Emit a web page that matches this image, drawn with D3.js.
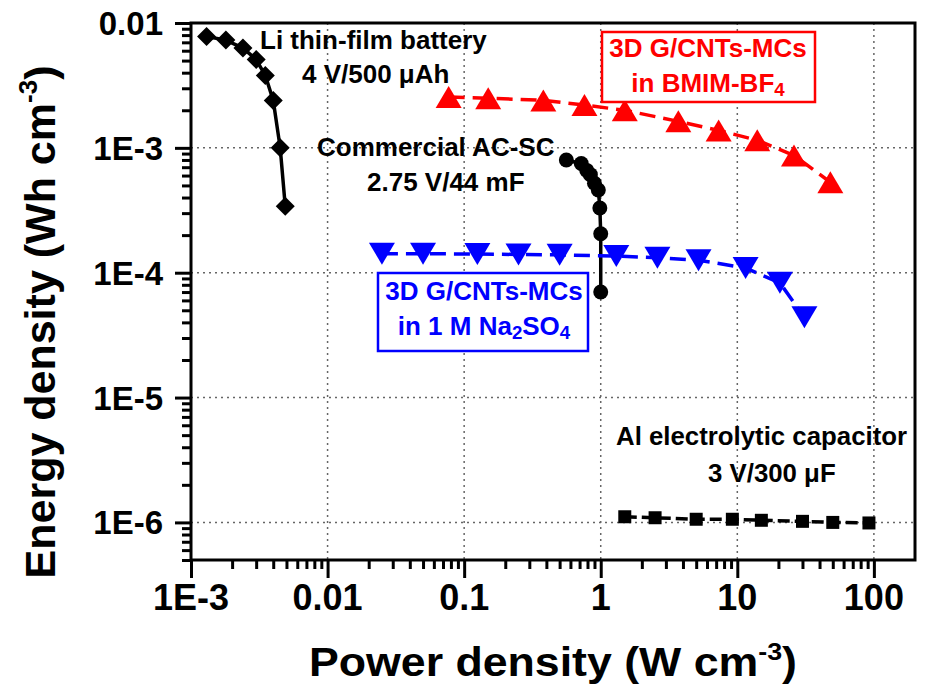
<!DOCTYPE html>
<html><head><meta charset="utf-8">
<script src="https://cdn.jsdelivr.net/npm/d3@7"></script>
<style>body{margin:0;background:#fff}text{font-family:"Liberation Sans",Arial,sans-serif;font-weight:bold}</style>
</head><body><svg id="c" width="926" height="690"></svg>
<script>
// ---- data ----
const xTicks=[1e-3,0.01,0.1,1,10,100];
const xTickLabels=["1E-3","0.01","0.1","1","10","100"];
const yTicks=[1e-6,1e-5,1e-4,1e-3,0.01];
const yTickLabels=["1E-6","1E-5","1E-4","1E-3","0.01"];

const liPower=[0.0013,0.0018,0.0024,0.003,0.0035,0.004,0.0045,0.0049];
const liEnergy=[0.0078,0.0073,0.0063,0.0051,0.0038,0.0024,0.001,0.00034];

const acPower=[0.56,0.72,0.79,0.84,0.9,0.96,0.985,1.0,1.0];
const acEnergy=[8.0e-4,7.5e-4,6.6e-4,6.1e-4,5.2e-4,4.6e-4,3.3e-4,2.05e-4,7.0e-5];

const ilPower=[0.077,0.15,0.38,0.76,1.5,3.7,7.3,14,26,48];
const ilEnergy=[0.00255,0.0025,0.0024,0.0022,0.002,0.00163,0.00138,0.00115,0.00087,0.00053];

const aqPower=[0.025,0.05,0.125,0.25,0.5,1.3,2.6,5.2,11.5,20.5,31];
const aqEnergy=[1.42e-4,1.42e-4,1.41e-4,1.40e-4,1.39e-4,1.36e-4,1.32e-4,1.26e-4,1.09e-4,8.3e-5,4.4e-5];

const alPower=[1.5,2.5,5,9.2,15,30,50,92];
const alEnergy=[1.11e-6,1.09e-6,1.06e-6,1.06e-6,1.04e-6,1.02e-6,1.0e-6,0.99e-6];

// ---- layout ----
const L=191,R=915,T=23,B=560;
const svg=d3.select("#c");
const x=d3.scaleLog().domain([1e-3,200]).range([L,R]);
const y=d3.scaleLog().domain([5e-7,0.01]).range([B,T]);

function minors(lo,hi){const a=[];for(let e=-8;e<=3;e++){for(let k=1;k<=9;k++){const v=k*Math.pow(10,e);if(v>=lo*0.999&&v<=hi*1.001)a.push(+v.toPrecision(3));}}return a;}
const isMajor=v=>Math.abs(Math.log10(v)-Math.round(Math.log10(v)))<1e-6;

// grid
const g=svg.append("g");
g.selectAll(".vg").data(xTicks.filter(v=>v>1e-3)).enter().append("line")
 .attr("x1",d=>x(d)).attr("x2",d=>x(d)).attr("y1",T).attr("y2",B)
 .attr("stroke","#666").attr("stroke-width",1.5).attr("stroke-dasharray","2,4");
g.selectAll(".hg").data(yTicks.filter(v=>v<0.01)).enter().append("line")
 .attr("y1",d=>y(d)).attr("y2",d=>y(d)).attr("x1",L).attr("x2",R)
 .attr("stroke","#666").attr("stroke-width",1.5).attr("stroke-dasharray","2,4");

// axes
const xAll=minors(1e-3,100);
const xAxis=svg.append("g").attr("transform",`translate(0,${B})`)
 .call(d3.axisBottom(x).tickValues(xAll).tickSize(17).tickFormat(""));
xAxis.select(".domain").remove();
xAxis.selectAll(".tick line").attr("stroke","#000").attr("stroke-width",3)
 .attr("y2",d=>isMajor(d)?18:9);
const yAll=minors(5e-7,0.01);
const yAxis=svg.append("g").attr("transform",`translate(${L},0)`)
 .call(d3.axisLeft(y).tickValues(yAll).tickSize(16).tickFormat(""));
yAxis.select(".domain").remove();
yAxis.selectAll(".tick line").attr("stroke","#000").attr("stroke-width",3)
 .attr("x2",d=>isMajor(d)?-16:-9);

// tick labels
svg.selectAll(".xl").data(xTicks).enter().append("text")
 .attr("x",d=>x(d)).attr("y",B+50).attr("text-anchor","middle")
 .attr("font-size",36).text((d,i)=>xTickLabels[i]);
svg.selectAll(".yl").data(yTicks).enter().append("text")
 .attr("x",L-28).attr("y",d=>y(d)+12).attr("text-anchor","end")
 .attr("font-size",33).text((d,i)=>yTickLabels[i]);

// frame
svg.append("rect").attr("x",L).attr("y",T).attr("width",R-L).attr("height",B-T)
 .attr("fill","none").attr("stroke","#000").attr("stroke-width",3);

// axis titles
const xt=svg.append("text").attr("x",(L+R)/2).attr("y",676).attr("text-anchor","middle")
 .attr("font-size",40).attr("textLength",488).attr("lengthAdjust","spacingAndGlyphs");
xt.append("tspan").text("Power density (W cm");
xt.append("tspan").attr("font-size",24).attr("dy",-16).text("-3");
xt.append("tspan").attr("dy",16).text(")");

const yt=svg.append("text").attr("transform","translate(55,322) rotate(-90)")
 .attr("text-anchor","middle").attr("font-size",43);
yt.append("tspan").text("Energy density (Wh cm");
yt.append("tspan").attr("font-size",26).attr("dy",-18).text("-3");
yt.append("tspan").attr("dy",18).text(")");

// series
function series(px,py,color,dash,shape){
  const pts=px.map((v,i)=>[v,py[i]]);
  const line=d3.line().x(d=>x(d[0])).y(d=>y(d[1]));
  svg.append("path").attr("d",line(pts)).attr("fill","none").attr("stroke",color)
   .attr("stroke-width",3.5).attr("stroke-dasharray",dash);
  svg.append("g").selectAll("path").data(pts).enter().append("path")
   .attr("transform",d=>`translate(${x(d[0])},${y(d[1])})`)
   .attr("d",shape).attr("fill",color);
}
const diamond="M0,-9.5L9.5,0L0,9.5L-9.5,0Z";
const triUp="M0,-11L13,11L-13,11Z";
const triDown="M0,11L13,-11L-13,-11Z";
const circle=d3.symbol().type(d3.symbolCircle).size(Math.PI*56)();
const square="M-6.5,-6.5H6.5V6.5H-6.5Z";

series(liPower,liEnergy,"#000",null,diamond);
series(acPower,acEnergy,"#000",null,circle);
series(ilPower,ilEnergy,"#ff0000","16,8",triUp);
series(aqPower,aqEnergy,"#0000ff","16,8",triDown);
series(alPower,alEnergy,"#000","12,5",square);

// annotations
function label(lines,color,fs){
  lines.forEach(l=>{
    const t=svg.append("text").attr("x",l.x).attr("y",l.y).attr("fill",color)
      .attr("font-size",fs).attr("text-anchor",l.anchor||"start");
    l.parts.forEach(p=>{
      const s=t.append("tspan").text(p.t);
      if(p.sub){s.attr("font-size",fs*0.72).attr("dy",4);}
      if(p.back){s.attr("dy",-4);}
    });
  });
}
label([{x:260,y:49,parts:[{t:"Li thin-film battery"}]},{x:302,y:83,parts:[{t:"4 V/500 μAh"}]}],"#000",26);
label([{x:317,y:156,parts:[{t:"Commercial AC-SC"}]},{x:367,y:191,parts:[{t:"2.75 V/44 mF"}]}],"#000",26);
label([{x:616,y:445,parts:[{t:"Al electrolytic capacitor"}]},{x:708,y:482,parts:[{t:"3 V/300 μF"}]}],"#000",25.8);

svg.append("rect").attr("x",602).attr("y",32).attr("width",213).attr("height",70)
 .attr("fill","#fff").attr("stroke","#ff0000").attr("stroke-width",2.5);
label([{x:708,y:57,anchor:"middle",parts:[{t:"3D G/CNTs-MCs"}]},{x:708,y:92,anchor:"middle",parts:[{t:"in BMIM-BF"},{t:"4",sub:true}]}],"#ff0000",26);

svg.append("rect").attr("x",378).attr("y",273).attr("width",210).attr("height",78)
 .attr("fill","#fff").attr("stroke","#0000ff").attr("stroke-width",2.5);
label([{x:484,y:300,anchor:"middle",parts:[{t:"3D G/CNTs-MCs"}]},{x:484,y:335,anchor:"middle",parts:[{t:"in 1 M Na"},{t:"2",sub:true},{t:"SO",back:true},{t:"4",sub:true}]}],"#0000ff",26);
</script></body></html>
